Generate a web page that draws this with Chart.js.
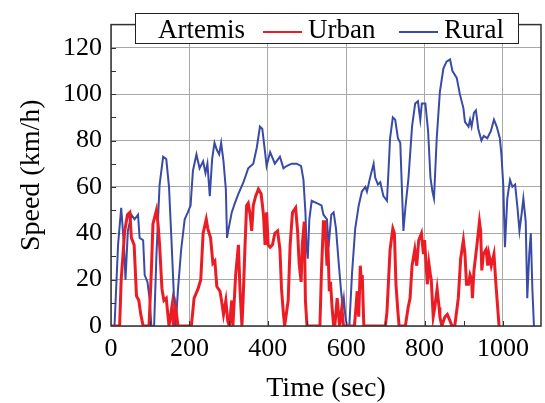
<!DOCTYPE html>
<html>
<head>
<meta charset="utf-8">
<script src="https://cdn.jsdelivr.net/npm/chart.js@4.4.0/dist/chart.umd.min.js"></script>
<style>
html, body { margin: 0; padding: 0; background: #fff; }
</style>
</head>
<body>
<canvas id="chart" width="545" height="403"></canvas>
<script>
// Artemis Fahrzyklen: Zeit (s) und Geschwindigkeit (km/h)
const urbanTime = [0, 22, 26, 35, 42, 48, 52, 59, 65, 71, 76, 82, 97, 103, 107, 116, 120, 124, 130, 135, 141, 145, 148, 156, 159, 165, 171,
  205, 212, 222, 229, 235, 243, 247, 254, 260, 265, 270, 278, 282, 287, 293, 298, 302, 308, 311, 318, 325, 329, 334, 337, 342, 346, 350,
  355, 359, 363, 369, 376, 383, 389, 393, 397, 401, 406, 412, 418, 425, 431, 435, 440, 443, 452, 457, 463, 471, 476, 480, 485, 488, 493,
  496, 500, 533, 537, 542, 546, 551, 553, 557, 560, 564, 568, 571, 577, 583, 589, 593, 621, 625, 628, 632, 636, 640, 641, 645, 700, 704,
  712, 719, 723, 727, 732, 735, 751, 758, 763, 768, 775, 780, 785, 792, 797, 800, 807, 811, 815, 817, 822, 826, 832, 837, 839, 844, 852,
  858, 863, 870, 877, 886, 892, 899, 903, 907, 912, 916, 920, 922, 926, 933, 940, 943, 946, 950, 957, 961, 964, 970, 977, 982, 986, 990, 993];
const urbanSpeed = [0, 0, 20, 41, 48, 49, 38, 35, 13, 11, 5, 0, 0, 24, 44, 50, 44, 35, 16, 11, 12, 5, 0, 9, 0, 8, 0,
  0, 12, 16, 20, 40, 46, 42, 38, 27, 28, 17, 15, 11, 5, 11, 2, 0, 11, 0, 22, 35, 16, 0, 11, 35, 52, 53,
  48, 41, 52, 56, 59, 57, 48, 35, 49, 35, 34, 35, 40, 41, 33, 16, 5, 0, 11, 35, 49, 51, 41, 27, 19, 35, 45,
  11, 0, 0, 24, 45, 45, 26, 37, 15, 19, 8, 0, 0, 12, 0, 8, 0, 0, 8, 15, 4, 26, 16, 22, 0, 0, 6,
  33, 42, 40, 18, 6, 0, 0, 8, 12, 26, 33, 26, 37, 40, 31, 37, 18, 27, 22, 20, 4, 8, 16, 8, 4, 0, 4,
  5, 3, 0, 0, 12, 29, 37, 31, 18, 18, 22, 20, 12, 24, 34, 45, 41, 24, 31, 33, 26, 31, 26, 31, 18, 9, 0, 0];

const ruralTime = [0, 9, 18, 26, 33, 37, 43, 52, 60, 69, 73, 82, 86, 93, 99, 103, 110, 116, 124, 133, 141, 148, 154, 161, 165, 171, 179,
  188, 196, 203, 209, 218, 226, 235, 241, 246, 252, 258, 264, 270, 276, 281, 287, 293, 296, 299, 308, 316, 325, 338, 350, 363, 372, 380,
  386, 393, 397, 406, 418, 431, 440, 448, 461, 474, 485, 491, 496, 499, 502, 506, 512, 525, 537, 542, 551, 555, 562, 568, 574, 581, 587,
  591, 594, 598, 602, 608, 615, 623, 632, 640, 649, 653, 661, 670, 674, 681, 687, 695, 704, 708, 712, 719, 725, 732, 738, 742, 746, 751,
  759, 768, 776, 783, 789, 793, 802, 809, 815, 820, 824, 831, 839, 848, 856, 865, 871, 882, 890, 899, 903, 912, 916, 920, 926, 931, 937,
  945, 951, 960, 969, 977, 984, 992, 996, 1001, 1003, 1005, 1011, 1018, 1024, 1031, 1037, 1042, 1048, 1052, 1058, 1062, 1067, 1071, 1075, 1079, 1082];
const ruralSpeed = [0, 0, 35, 51, 35, 20, 41, 48, 46, 48, 38, 37, 22, 19, 11, 0, 0, 31, 61, 73, 72, 60, 38, 11, 0, 16, 33,
  46, 49, 52, 67, 74, 68, 71, 66, 70, 56, 72, 79, 76, 74, 79, 71, 59, 38, 41, 49, 53, 57, 62, 68, 70, 77, 86,
  85, 75, 69, 75, 70, 73, 68, 69, 70, 70, 69, 63, 49, 34, 29, 46, 54, 53, 52, 48, 46, 34, 48, 49, 42, 27, 15,
  8, 12, 4, 0, 0, 23, 42, 52, 58, 60, 58, 64, 70, 64, 61, 62, 56, 54, 67, 81, 90, 89, 81, 79, 60, 41, 51,
  64, 86, 96, 97, 89, 96, 96, 84, 64, 58, 55, 81, 101, 111, 114, 115, 110, 107, 100, 94, 88, 86, 89, 86, 92, 93, 85,
  80, 82, 81, 84, 89, 86, 81, 74, 60, 46, 34, 55, 63, 60, 61, 51, 41, 49, 55, 45, 12, 31, 40, 16, 0, 0];

const seriesNames = ['Urban', 'Rural'];
const legendTitle = 'Artemis';
const xTicks = [0, 200, 400, 600, 800, 1000];
const yTicks = [0, 20, 40, 60, 80, 100, 120];

const serif = "'Liberation Serif', 'Times New Roman', serif";
const red = '#ec1c24';
const blue = '#3a4ba6';

function toPoints(t, v) {
    return t.map((x, i) => ({ x: x, y: v[i] }));
}

// Rahmen und kleine Ticks nach innen
const framePlugin = {
    id: 'frame',
    afterDraw(chart) {
        const ctx = chart.ctx;
        const a = chart.chartArea;
        const xs = chart.scales.x;
        const ys = chart.scales.y;
        ctx.save();
        ctx.strokeStyle = '#333';
        ctx.lineWidth = 1;
        ctx.beginPath();
        for (let v = 10; v < 130; v += 10) {
            const y = Math.round(ys.getPixelForValue(v)) + 0.5;
            ctx.moveTo(a.left, y);
            ctx.lineTo(a.left + 5, y);
        }
        for (let t = 100; t < 1100; t += 100) {
            const x = Math.round(xs.getPixelForValue(t)) + 0.5;
            ctx.moveTo(x, a.bottom);
            ctx.lineTo(x, a.bottom - 5);
        }
        ctx.stroke();
        ctx.lineWidth = 1.5;
        ctx.strokeRect(a.left, a.top, a.right - a.left, a.bottom - a.top);
        ctx.restore();
    }
};

// Legende im Diagramm oben
const legendPlugin = {
    id: 'boxLegend',
    afterDraw(chart) {
        const ctx = chart.ctx;
        ctx.save();
        ctx.fillStyle = '#fff';
        ctx.fillRect(135, 13, 384, 31);
        ctx.strokeStyle = '#222';
        ctx.lineWidth = 1;
        ctx.strokeRect(135.5, 13.5, 383, 30);
        ctx.font = '27px ' + serif;
        ctx.fillStyle = '#000';
        ctx.textBaseline = 'alphabetic';
        ctx.fillText(legendTitle, 158, 38);
        const items = [
            { x: 263, ds: chart.data.datasets[0] },
            { x: 399, ds: chart.data.datasets[1] }
        ];
        items.forEach(it => {
            ctx.strokeStyle = it.ds.borderColor;
            ctx.lineWidth = 2;
            ctx.beginPath();
            ctx.moveTo(it.x, 32);
            ctx.lineTo(it.x + 39, 32);
            ctx.stroke();
            ctx.fillText(it.ds.label, it.x + 45, 38);
        });
        ctx.restore();
    }
};

new Chart(document.getElementById('chart'), {
    type: 'line',
    data: {
        datasets: [{
            label: seriesNames[0],
            data: toPoints(urbanTime, urbanSpeed),
            borderColor: red,
            borderWidth: 3,
            pointRadius: 0,
            tension: 0,
            fill: false
        }, {
            label: seriesNames[1],
            data: toPoints(ruralTime, ruralSpeed),
            borderColor: blue,
            borderWidth: 2,
            pointRadius: 0,
            tension: 0,
            fill: false
        }]
    },
    options: {
        responsive: false,
        animation: false,
        layout: { padding: { top: 10, right: 4, left: 0, bottom: 0 } },
        plugins: {
            legend: { display: false },
            tooltip: { enabled: false }
        },
        scales: {
            x: {
                type: 'linear',
                min: 0,
                max: 1097,
                afterBuildTicks: s => { s.ticks = xTicks.map(v => ({ value: v })); },
                afterFit: s => { s.height = 77; },
                grid: { color: '#a8a8a8', lineWidth: 1, drawTicks: false },
                border: { display: false },
                ticks: {
                    padding: 8,
                    maxRotation: 0,
                    color: '#000',
                    callback: v => String(v),
                    font: { family: serif, size: 26 }
                },
                title: {
                    display: true,
                    text: 'Time (sec)',
                    color: '#000',
                    padding: 0,
                    font: { family: serif, size: 28, lineHeight: 1 }
                }
            },
            y: {
                min: 0,
                max: 130,
                afterBuildTicks: s => { s.ticks = yTicks.map(v => ({ value: v })); },
                afterFit: s => { s.width = 111; },
                grid: { color: '#a8a8a8', lineWidth: 1, drawTicks: false },
                border: { display: false },
                ticks: {
                    padding: 9,
                    color: '#000',
                    callback: v => String(v),
                    font: { family: serif, size: 26 }
                },
                title: {
                    display: true,
                    text: 'Speed (km/h)',
                    color: '#000',
                    padding: { top: 18, bottom: 0 },
                    font: { family: serif, size: 28, lineHeight: 1 }
                }
            }
        }
    },
    plugins: [framePlugin, legendPlugin]
});
</script>
</body>
</html>
